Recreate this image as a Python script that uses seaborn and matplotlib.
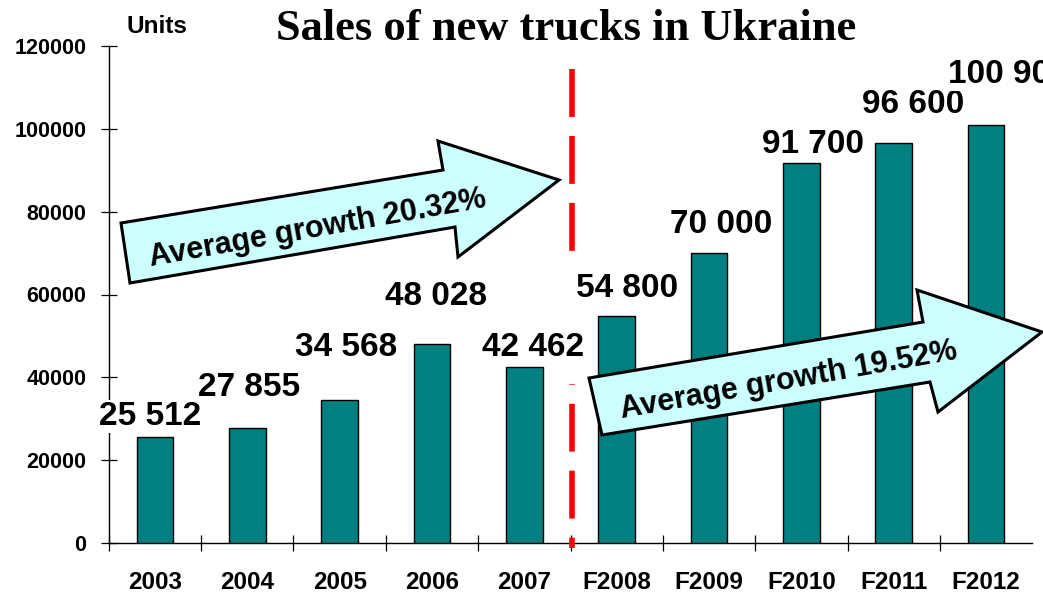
import matplotlib
matplotlib.use("Agg")
import matplotlib.pyplot as plt
import seaborn as sns
import pandas as pd
from matplotlib.patches import Polygon

# ---- data ----
years = ["2003", "2004", "2005", "2006", "2007", "F2008", "F2009", "F2010", "F2011", "F2012"]
sales = [25512, 27855, 34568, 48028, 42462, 54800, 70000, 91700, 96600, 100900]
value_labels = ["25 512", "27 855", "34 568", "48 028", "42 462",
                "54 800", "70 000", "91 700", "96 600", "100 900"]
y_ticks = [0, 20000, 40000, 60000, 80000, 100000, 120000]
growth_texts = ["Average growth 20.32%", "Average growth 19.52%"]
title = "Sales of new trucks in Ukraine"
units = "Units"

# ---- layout (label offsets in data units, label box padding in points) ----
label_dx = [-0.05, 0.02, 0.07, 0.04, 0.09, 0.11, 0.13, 0.13, 0.21, 0.24]
label_dy = [2990, 7650, 10600, 9460, 2710, 4620, 4880, 2500, 7265, 10210]
label_pad = [1, 1, 1, 1, 15, 15, 1, 1, 1, 1]

W, H = 1043, 593
sns.set_style("ticks")
plt.rcParams["font.family"] = ["Liberation Sans", "DejaVu Sans"]
plt.rcParams.update({"text.color": "black", "axes.labelcolor": "black",
                     "xtick.color": "black", "ytick.color": "black",
                     "lines.scale_dashes": False})

fig = plt.figure(figsize=(W / 100, H / 100), dpi=100)
ax = fig.add_axes([108.8 / W, 50 / H, 923.4 / W, 497 / H])

df = pd.DataFrame({"year": years, "sales": sales})
sns.barplot(data=df, x="year", y="sales", color="#008080", saturation=1,
            width=0.4, edgecolor="black", linewidth=1.0, ax=ax, zorder=6)

ax.set_xlim(-0.5, 9.5)
ax.set_ylim(0, 120000)
ax.set_xlabel("")
ax.set_ylabel("")

for s in ["top", "right"]:
    ax.spines[s].set_visible(False)
for s in ["left", "bottom"]:
    ax.spines[s].set_color("black")
    ax.spines[s].set_linewidth(1.0)

ax.set_yticks(y_ticks)
ax.set_yticklabels([str(v) for v in y_ticks], fontsize=15.5, fontweight="bold")
ax.tick_params(axis="y", which="major", left=True, direction="inout", length=12,
               width=0.9, pad=10, colors="black")

ax.set_xticks(range(len(years)))
ax.set_xticklabels(years, fontsize=17.5, fontweight="bold")
ax.tick_params(axis="x", which="major", bottom=True, length=0, pad=20)
ax.set_xticks([i - 0.5 for i in range(len(years))], minor=True)
ax.tick_params(axis="x", which="minor", bottom=True, direction="inout", length=12,
               width=0.9, color="black")

# value labels (white boxes, as in the original, hide the divider behind them)
for i, (v, lab) in enumerate(zip(sales, value_labels)):
    ax.text(i + label_dx[i], v + label_dy[i], lab, ha="center", va="baseline",
            fontsize=24, fontweight="bold", clip_on=False, zorder=4,
            bbox=dict(facecolor="white", edgecolor="none", pad=label_pad[i]))

# red dashed divider (drawn top to bottom so a dash starts at the top)
ax.plot([4.52, 4.52], [114500, -1200], color="#FF0000", lw=4,
        linestyle=(0, (34.5, 13.7)), solid_capstyle="butt", dash_capstyle="butt",
        clip_on=False, zorder=3)

# arrows (figure pixel coordinates)
arrow1 = [(121, 223), (443, 170), (438, 141), (559, 180), (458, 257), (455, 227), (130, 283)]
arrow2 = [(589, 378), (923, 322), (917, 290), (1042, 332), (938, 412), (930, 382), (602, 435)]
for pts in (arrow1, arrow2):
    poly = Polygon([(x / W, 1 - y / H) for x, y in pts], closed=True,
                   transform=fig.transFigure, facecolor="#CCFFFF",
                   edgecolor="black", lw=2.2, zorder=5)
    fig.patches.append(poly)

fig.text(318 / W, 1 - 229 / H, growth_texts[0], rotation=10, rotation_mode="anchor",
         ha="center", va="center", fontsize=22, fontweight="bold", zorder=6)
fig.text(789 / W, 1 - 381 / H, growth_texts[1], rotation=10, rotation_mode="anchor",
         ha="center", va="center", fontsize=22, fontweight="bold", zorder=6)

fig.text(0.543, 1 - 40 / H, title, ha="center", va="baseline",
         fontsize=32, fontweight="bold", family=["Liberation Serif", "DejaVu Serif"])
fig.text(126 / W, 1 - 33 / H, units, ha="left", va="baseline",
         fontsize=17.5, fontweight="bold")

fig.savefig("out.png", dpi=100)
